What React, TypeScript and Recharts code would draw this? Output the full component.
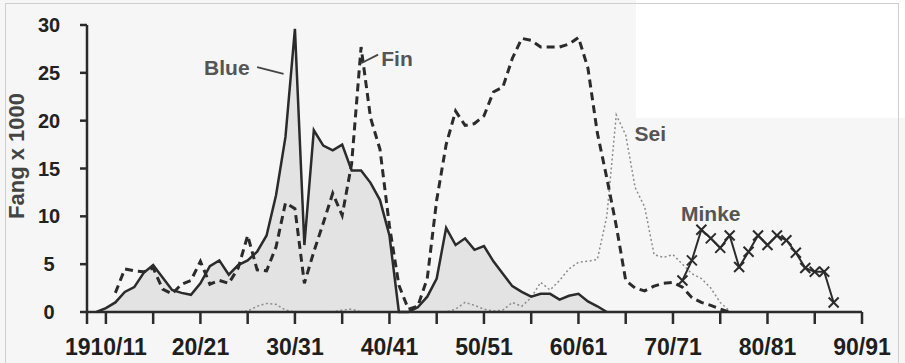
import React from 'react';
import { ComposedChart, Area, Line, XAxis, YAxis, ReferenceDot, ReferenceLine, Label } from 'recharts';

// catches per season (thousands), season 1910/11 is plotted at 1910
const blueStart = 1909;
const blueCatch = [
    0, 0.4, 1.0, 2.1, 2.6, 4.1, 4.9, 3.6, 2.3, 2.0,
    1.8, 3.0, 4.8, 5.4, 3.9, 4.9, 5.4, 6.3, 8.0, 12.2,
    18.3, 29.6, 7.0, 19.0, 17.4, 16.9, 17.5, 14.8, 14.8, 13.5,
    11.7, 8.0, 0, 0, 0.5, 1.6, 3.5, 8.8, 7.0, 7.7,
    6.5, 6.9, 5.3, 4.0, 2.7, 2.1, 1.6, 1.9, 1.9, 1.3,
    1.7, 1.9, 1.1, 0.6, 0,
];

const finStart = 1911;
const finCatch = [
    2.0, 4.5, 4.3, 4.2, 4.6, 2.4, 1.9, 2.9, 3.3, 5.3,
    2.9, 3.3, 3.0, 4.6, 8.0, 4.4, 4.3, 6.8, 11.4, 10.8,
    3.0, 6.3, 9.3, 12.4, 10.1, 15.5, 27.7, 20.3, 17.0, 9.0,
    2.8, 0.3, 0.6, 3.5, 11.7, 17.5, 21.0, 19.5, 19.7, 20.5,
    23.0, 23.5, 26.5, 28.6, 28.4, 27.7, 27.7, 27.7, 28.0, 28.7,
    25.5, 18.7, 14.0, 9.0, 3.3, 2.5, 2.2, 2.7, 3.0, 3.1,
    2.6, 1.5, 1.0, 0.7, 0.3, 0,
];

const seiStart = 1909;
const seiCatch = [
    0, 0, 0, 0, 0, 0, 0, 0, 0, 0, 0, 0, 0, 0, 0, 0,
    0.1, 0.6, 0.9, 0.8, 0.2,
    0, 0, 0, 0, 0,
    0.2, 0.3,
    0, 0, 0, 0, 0, 0, 0, 0, 0, 0,
    0.3, 1.0, 0.7, 0.3, 0.1, 0.2, 1.0, 0.6, 1.5, 3.1,
    2.3, 3.3, 4.5, 5.2, 5.3, 5.5, 10.0, 20.6, 18.5, 13.0,
    11.0, 6.0, 5.7, 6.0, 5.0, 4.0, 3.5, 2.5, 1.0, 0.1,
];

const minkeStart = 1971;
const minkeCatch = [3.3, 5.4, 8.6, 7.7, 6.7, 8.0, 4.7, 6.3, 8.0, 7.0, 8.0, 7.5, 6.2, 4.6, 4.2, 4.2, 1.0];

const xTicks = [1908, 1910, 1915, 1920, 1925, 1930, 1935, 1940, 1945, 1950, 1955, 1960, 1965, 1970, 1975, 1980, 1985, 1990];
const seasonYears = [1910, 1920, 1930, 1940, 1950, 1960, 1970, 1980, 1990];
const seasonLabels = ['1910/11', '20/21', '30/31', '40/41', '50/51', '60/61', '70/71', '80/81', '90/91'];
const yTicks = [0, 5, 10, 15, 20, 25, 30];

const pick = (arr: number[], start: number, year: number) => {
    const i = year - start;
    return i >= 0 && i < arr.length ? arr[i] : null;
};

const data: any[] = [];
for (let year = 1909; year <= 1987; year++) {
    data.push({
        year,
        blue: pick(blueCatch, blueStart, year),
        fin: pick(finCatch, finStart, year),
        sei: pick(seiCatch, seiStart, year),
        minke: pick(minkeCatch, minkeStart, year),
    });
}

const ink = '#2b2b2b';
const noteStyle = { fill: '#555', fontSize: 21, fontWeight: 700 };

const formatSeason = (v: number) => {
    const i = seasonYears.indexOf(v);
    return i >= 0 ? seasonLabels[i] : '';
};

const YTick = (props: any) => {
    const { y, payload } = props;
    return (
        <text x={49} y={y} textAnchor="middle" dominantBaseline="central" fontSize={20} fontWeight={700} fill="#222">
            {payload.value}
        </text>
    );
};

const XMark = (props: any) => {
    const { cx, cy, index } = props;
    if (cx == null || cy == null || props.value == null) return <g key={`m${index}`} />;
    const s = 5;
    return (
        <g key={`m${index}`} stroke={ink} strokeWidth={2}>
            <line x1={cx - s} y1={cy - s} x2={cx + s} y2={cy + s} />
            <line x1={cx - s} y1={cy + s} x2={cx + s} y2={cy - s} />
        </g>
    );
};

const App: React.FC = () => {
    return (
        <div style={{ position: 'absolute', left: 0, top: 0, width: 905, height: 363, background: '#f6f6f6', fontFamily: '"Liberation Sans", Arial, sans-serif' }}>
            <div style={{ position: 'absolute', left: 636, top: 0, width: 269, height: 118, background: '#fff' }} />
            <div style={{ position: 'absolute', left: 5, top: 3, width: 894, height: 362, border: '1px solid #cfcfcf', boxSizing: 'border-box' }} />
            <ComposedChart
                width={905}
                height={363}
                data={data}
                margin={{ top: 25, right: 43, left: 0, bottom: 0 }}
                style={{ position: 'absolute', left: 0, top: 0 }}
            >
                <XAxis
                    dataKey="year"
                    type="number"
                    domain={[1908, 1990]}
                    ticks={xTicks}
                    tickFormatter={formatSeason}
                    interval={0}
                    height={51}
                    tickSize={12}
                    tickMargin={15}
                    axisLine={{ stroke: ink, strokeWidth: 2.5 }}
                    tickLine={{ stroke: ink, strokeWidth: 2.5 }}
                    tick={{ fontSize: 23, fontWeight: 700, fill: '#1e1e1e' }}
                />
                <YAxis
                    type="number"
                    domain={[0, 30]}
                    ticks={yTicks}
                    interval={0}
                    width={87}
                    tickSize={7}
                    axisLine={{ stroke: ink, strokeWidth: 2.5 }}
                    tickLine={{ stroke: ink, strokeWidth: 2.5 }}
                    tick={<YTick />}
                >
                    <Label
                        content={() => (
                            <text
                                x={16}
                                y={156}
                                transform="rotate(-90 16 156)"
                                textAnchor="middle"
                                dominantBaseline="central"
                                fontSize={22}
                                fontWeight={700}
                                fill="#444"
                            >
                                Fang x 1000
                            </text>
                        )}
                    />
                </YAxis>

                <Area type="linear" dataKey="blue" stroke="none" fill="#e3e3e3" fillOpacity={1} isAnimationActive={false} />
                <Line type="linear" dataKey="sei" stroke="#8c8c8c" strokeWidth={1.5} strokeDasharray="2 2.5" dot={false} isAnimationActive={false} />
                <Line type="linear" dataKey="fin" stroke={ink} strokeWidth={3} strokeDasharray="8 5" dot={false} isAnimationActive={false} />
                <Line type="linear" dataKey="blue" stroke={ink} strokeWidth={2.5} dot={false} isAnimationActive={false} />
                <Line type="linear" dataKey="minke" stroke={ink} strokeWidth={2} dot={<XMark />} isAnimationActive={false} />

                <ReferenceLine segment={[{ x: 1926.0, y: 25.6 }, { x: 1928.8, y: 24.9 }]} stroke="#444" strokeWidth={1.8} />
                <ReferenceLine segment={[{ x: 1937.0, y: 26.0 }, { x: 1938.8, y: 26.9 }]} stroke="#444" strokeWidth={1.8} />
                <ReferenceDot x={1922.8} y={25.6} r={0} stroke="none" fill="none" label={{ value: 'Blue', position: 'center', ...noteStyle }} />
                <ReferenceDot x={1940.8} y={26.5} r={0} stroke="none" fill="none" label={{ value: 'Fin', position: 'center', ...noteStyle }} />
                <ReferenceDot x={1967.6} y={18.7} r={0} stroke="none" fill="none" label={{ value: 'Sei', position: 'center', ...noteStyle }} />
                <ReferenceDot x={1974.0} y={10.3} r={0} stroke="none" fill="none" label={{ value: 'Minke', position: 'center', ...noteStyle }} />
            </ComposedChart>
        </div>
    );
};

export default App;
